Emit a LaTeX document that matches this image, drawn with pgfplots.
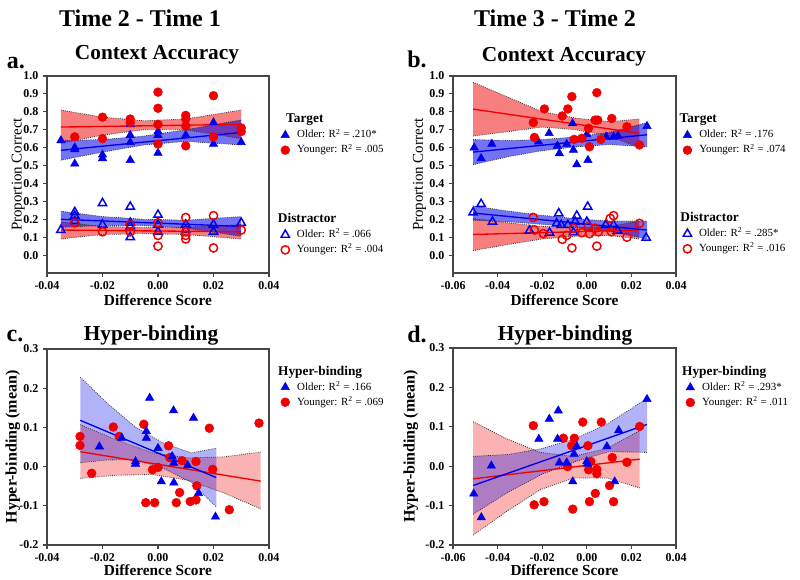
\documentclass[border=0pt]{standalone}
\usepackage{pgfplots}
\pgfplotsset{compat=1.18}
\usepackage{fontspec}
\setmainfont{Liberation Serif}
\definecolor{myblue}{RGB}{0,0,235}
\definecolor{myred}{RGB}{240,0,0}
\definecolor{axgray}{RGB}{70,70,70}
\pgfplotsset{
  legstyle/.style={legend style={draw=none, fill=none, anchor=north west,
      font=\fontsize{8.2}{9}\selectfont, row sep=1.85pt, inner sep=0pt,
      nodes={inner sep=0.6pt, text height=6.2pt, text depth=2pt},
      /tikz/every odd column/.append style={column sep=5pt},
      cells={anchor=west}}},
  panel/.style={
    scale only axis, legstyle, scaled ticks=false,
    axis line style={axgray, line width=0.8pt},
    every tick/.style={axgray, line width=0.8pt},
    tick align=outside,
    xtick pos=left, ytick pos=left,
    major tick length=3pt,
    tick label style={font=\bfseries\fontsize{9}{10}\selectfont},
    /pgf/number format/assume math mode=true,
    xticklabel style={/pgf/number format/fixed, /pgf/number format/fixed zerofill, /pgf/number format/precision=2},
    yticklabel style={/pgf/number format/fixed, /pgf/number format/fixed zerofill, /pgf/number format/precision=1},
    xlabel style={font=\bfseries\fontsize{11.5}{13}\selectfont},
    xlabel shift=-3pt,
  },
  hidden/.style={scale only axis, hide axis, legstyle},
  olderT/.style={only marks, mark=triangle*, mark size=3.6pt, mark options={draw=myblue, fill=myblue}},
  youngerT/.style={only marks, mark=*, mark size=3.3pt, mark options={draw=myred, fill=myred}},
  olderD/.style={only marks, mark=triangle, mark size=3.6pt, mark options={draw=myblue, line width=1.1pt, fill=none}},
  youngerD/.style={only marks, mark=o, mark size=3.1pt, mark options={draw=myred, line width=1.1pt}},
  cib/.style={densely dotted, black!80, line width=0.6pt, forget plot},
  regr/.style={#1, line width=1pt, forget plot},
}
\newcommand{\hdr}[2]{\hspace{#1}\fontsize{10}{11}\bfseries #2}
\begin{document}
\begin{tikzpicture}
\useasboundingbox (0,0) rectangle (600pt,-434.25pt);
\node[font=\bfseries\fontsize{18}{20}\selectfont] at (105pt,-13.5pt) {Time 2 - Time 1};
\node[font=\bfseries\fontsize{18}{20}\selectfont] at (416.25pt,-13.5pt) {Time 3 - Time 2};
\node[font=\bfseries\fontsize{18}{20}\selectfont] at (12pt,-47.5pt) {a.};
\node[font=\bfseries\fontsize{18}{20}\selectfont] at (312.75pt,-44.5pt) {b.};
\node[font=\bfseries\fontsize{18}{20}\selectfont] at (11.25pt,-252pt) {c.};
\node[font=\bfseries\fontsize{18}{20}\selectfont] at (312.75pt,-250.5pt) {d.};
\node[font=\bfseries\fontsize{16}{18}\selectfont] at (117.75pt,-41.25pt) {Context Accuracy};
\node[font=\bfseries\fontsize{16}{18}\selectfont] at (423pt,-42.75pt) {Context Accuracy};
\node[font=\bfseries\fontsize{16}{18}\selectfont] at (113.25pt,-251.25pt) {Hyper-binding};
\node[font=\bfseries\fontsize{16}{18}\selectfont] at (423.75pt,-251.25pt) {Hyper-binding};

%================ Panel a: target
\begin{axis}[panel, at={(35.25pt,-204.75pt)}, anchor=south west,
  width=166.5pt, height=147.75pt,
  xmin=-0.04, xmax=0.04, ymin=-0.1, ymax=1.0,
  xtick={-0.04,-0.02,0,0.02,0.04},
  ytick={0,0.1,0.2,0.3,0.4,0.5,0.6,0.7,0.8,0.9,1.0},
  xlabel={Difference Score}, ylabel={Proportion Correct},
  ylabel style={font=\fontsize{11.25}{13}\selectfont}, ylabel shift=-8pt,
  legend style={at={(1.021,0.809)}}]
\addplot[fill=myred, fill opacity=0.5, draw=none, forget plot] coordinates
 {(-0.035,0.81) (-0.02,0.77) (-0.005,0.75) (0.01,0.76) (0.03,0.81)
  (0.03,0.65) (0.01,0.70) (-0.005,0.70) (-0.02,0.67) (-0.035,0.625)} -- cycle;
\addplot[fill=myblue, fill opacity=0.55, draw=none, forget plot] coordinates
 {(-0.035,0.64) (-0.02,0.645) (-0.005,0.665) (0.01,0.70) (0.03,0.755)
  (0.03,0.615) (0.01,0.635) (-0.005,0.615) (-0.02,0.575) (-0.035,0.53)} -- cycle;
\addplot[cib] coordinates {(-0.035,0.81) (-0.02,0.77) (-0.005,0.75) (0.01,0.76) (0.03,0.81)};
\addplot[cib] coordinates {(-0.035,0.625) (-0.02,0.67) (-0.005,0.70) (0.01,0.70) (0.03,0.65)};
\addplot[cib] coordinates {(-0.035,0.64) (-0.02,0.645) (-0.005,0.665) (0.01,0.70) (0.03,0.755)};
\addplot[cib] coordinates {(-0.035,0.53) (-0.02,0.575) (-0.005,0.615) (0.01,0.635) (0.03,0.615)};
\addplot[regr=myred] coordinates {(-0.035,0.715) (0.03,0.73)};
\addplot[regr=myblue] coordinates {(-0.035,0.585) (0.03,0.685)};
\addplot[olderT, forget plot] coordinates {(-0.035,0.64) (-0.03,0.60) (-0.03,0.59) (-0.03,0.51) (-0.02,0.56) (-0.02,0.54) (-0.01,0.73) (-0.01,0.67) (-0.01,0.63) (-0.01,0.53) (0,0.69) (0,0.67) (0,0.57) (0.01,0.67) (0.02,0.74) (0.02,0.62) (0.03,0.63)};
\addplot[youngerT, forget plot] coordinates {(-0.03,0.66) (-0.02,0.77) (-0.02,0.65) (-0.01,0.76) (-0.01,0.74) (0,0.91) (0,0.82) (0,0.73) (0,0.62) (0.01,0.78) (0.01,0.76) (0.01,0.72) (0.01,0.61) (0.02,0.89) (0.02,0.66) (0.03,0.71) (0.03,0.69)};
\addlegendimage{empty legend}\addlegendentry{\hdr{-8.25pt}{Target}}
\addlegendimage{olderT}\addlegendentry{Older: R\textsuperscript{2} = .210*}
\addlegendimage{youngerT}\addlegendentry{Younger: R\textsuperscript{2} = .005}
\end{axis}
%================ Panel a: distractor
\begin{axis}[hidden, at={(35.25pt,-204.75pt)}, anchor=south west,
  width=166.5pt, height=147.75pt,
  xmin=-0.04, xmax=0.04, ymin=-0.1, ymax=1.0,
  legend style={at={(1.021,0.303)}}]
\addplot[fill=myred, fill opacity=0.5, draw=none, forget plot] coordinates
 {(-0.035,0.185) (-0.02,0.16) (-0.005,0.155) (0.01,0.155) (0.03,0.17)
  (0.03,0.09) (0.01,0.115) (-0.005,0.12) (-0.02,0.115) (-0.035,0.09)} -- cycle;
\addplot[fill=myblue, fill opacity=0.55, draw=none, forget plot] coordinates
 {(-0.035,0.245) (-0.02,0.215) (-0.005,0.20) (0.01,0.195) (0.03,0.215)
  (0.03,0.105) (0.01,0.15) (-0.005,0.165) (-0.02,0.165) (-0.035,0.155)} -- cycle;
\addplot[cib] coordinates {(-0.035,0.185) (-0.02,0.16) (-0.005,0.155) (0.01,0.155) (0.03,0.17)};
\addplot[cib] coordinates {(-0.035,0.09) (-0.02,0.115) (-0.005,0.12) (0.01,0.115) (0.03,0.09)};
\addplot[cib] coordinates {(-0.035,0.245) (-0.02,0.215) (-0.005,0.20) (0.01,0.195) (0.03,0.215)};
\addplot[cib] coordinates {(-0.035,0.155) (-0.02,0.165) (-0.005,0.165) (0.01,0.15) (0.03,0.105)};
\addplot[regr=myred] coordinates {(-0.035,0.14) (0.03,0.13)};
\addplot[regr=myblue] coordinates {(-0.035,0.20) (0.03,0.16)};
\addplot[olderD, forget plot] coordinates {(-0.035,0.14) (-0.03,0.24) (-0.03,0.22) (-0.03,0.19) (-0.02,0.29) (-0.02,0.17) (-0.01,0.27) (-0.01,0.18) (-0.01,0.16) (-0.01,0.10) (0,0.225) (0,0.17) (0,0.13) (0.01,0.17) (0.01,0.14) (0.02,0.17) (0.02,0.13) (0.03,0.18)};
\addplot[youngerD, forget plot] coordinates {(-0.03,0.18) (-0.02,0.13) (-0.01,0.13) (-0.01,0.17) (0,0.18) (0,0.11) (0,0.05) (0.01,0.21) (0.01,0.13) (0.01,0.11) (0.01,0.09) (0.02,0.22) (0.02,0.04) (0.03,0.14)};
\addlegendimage{empty legend}\addlegendentry{\hdr{-14.25pt}{Distractor}}
\addlegendimage{olderD}\addlegendentry{Older: R\textsuperscript{2} = .066}
\addlegendimage{youngerD}\addlegendentry{Younger: R\textsuperscript{2} = .004}
\end{axis}

%================ Panel b: target
\begin{axis}[panel, at={(339.75pt,-204.75pt)}, anchor=south west,
  width=167.25pt, height=147.75pt,
  xmin=-0.06, xmax=0.04, ymin=-0.1, ymax=1.0,
  xtick={-0.06,-0.04,-0.02,0,0.02,0.04},
  ytick={0,0.1,0.2,0.3,0.4,0.5,0.6,0.7,0.8,0.9,1.0},
  xlabel={Difference Score}, ylabel={Proportion Correct},
  ylabel style={font=\fontsize{11.25}{13}\selectfont}, ylabel shift=-4.5pt,
  legend style={at={(0.999,0.809)}}]
\addplot[fill=myred, fill opacity=0.5, draw=none, forget plot] coordinates
 {(-0.051,0.965) (-0.035,0.88) (-0.02,0.80) (-0.005,0.765) (0.01,0.745) (0.0236,0.76)
  (0.0236,0.60) (0.01,0.665) (-0.005,0.70) (-0.02,0.715) (-0.035,0.69) (-0.051,0.665)} -- cycle;
\addplot[fill=myblue, fill opacity=0.55, draw=none, forget plot] coordinates
 {(-0.051,0.645) (-0.035,0.64) (-0.02,0.645) (-0.005,0.66) (0.01,0.685) (0.027,0.74)
  (0.027,0.605) (0.01,0.617) (-0.005,0.604) (-0.02,0.583) (-0.035,0.55) (-0.051,0.505)} -- cycle;
\addplot[cib] coordinates {(-0.051,0.965) (-0.035,0.88) (-0.02,0.80) (-0.005,0.765) (0.01,0.745) (0.0236,0.76)};
\addplot[cib] coordinates {(-0.051,0.665) (-0.035,0.69) (-0.02,0.715) (-0.005,0.70) (0.01,0.665) (0.0236,0.60)};
\addplot[cib] coordinates {(-0.051,0.645) (-0.035,0.64) (-0.02,0.645) (-0.005,0.66) (0.01,0.685) (0.027,0.74)};
\addplot[cib] coordinates {(-0.051,0.505) (-0.035,0.55) (-0.02,0.583) (-0.005,0.604) (0.01,0.617) (0.027,0.605)};
\addplot[regr=myred] coordinates {(-0.051,0.815) (0.0236,0.68)};
\addplot[regr=myblue] coordinates {(-0.051,0.575) (0.027,0.672)};
\addplot[olderT, forget plot] coordinates {(-0.0505,0.60) (-0.0474,0.54) (-0.0426,0.62) (-0.0217,0.633) (-0.0169,0.68) (-0.0132,0.61) (-0.0123,0.568) (-0.009,0.62) (-0.0064,0.735) (-0.006,0.587) (-0.0045,0.506) (0,0.674) (0.0005,0.53) (0.0087,0.66) (0.012,0.66) (0.014,0.665) (0.027,0.72)};
\addplot[youngerT, forget plot] coordinates {(-0.024,0.74) (-0.0235,0.657) (-0.019,0.816) (-0.011,0.777) (-0.0085,0.816) (-0.0067,0.885) (-0.0057,0.646) (-0.0022,0.652) (0.00075,0.708) (0.0012,0.605) (0.0037,0.754) (0.0049,0.754) (0.0045,0.907) (0.0063,0.646) (0.0112,0.763) (0.018,0.717) (0.0236,0.615)};
\addlegendimage{empty legend}\addlegendentry{\hdr{-14.75pt}{Target}}
\addlegendimage{olderT}\addlegendentry{Older: R\textsuperscript{2} = .176}
\addlegendimage{youngerT}\addlegendentry{Younger: R\textsuperscript{2} = .074}
\end{axis}
%================ Panel b: distractor
\begin{axis}[hidden, at={(339.75pt,-204.75pt)}, anchor=south west,
  width=167.25pt, height=147.75pt,
  xmin=-0.06, xmax=0.04, ymin=-0.1, ymax=1.0,
  legend style={at={(0.999,0.308)}}]
\addplot[fill=myred, fill opacity=0.5, draw=none, forget plot] coordinates
 {(-0.051,0.205) (-0.035,0.18) (-0.02,0.16) (-0.005,0.155) (0.01,0.16) (0.0236,0.19)
  (0.0236,0.09) (0.01,0.11) (-0.005,0.105) (-0.02,0.09) (-0.035,0.06) (-0.051,0.025)} -- cycle;
\addplot[fill=myblue, fill opacity=0.55, draw=none, forget plot] coordinates
 {(-0.051,0.275) (-0.035,0.245) (-0.02,0.222) (-0.005,0.203) (0.01,0.19) (0.027,0.19)
  (0.027,0.09) (0.01,0.132) (-0.005,0.155) (-0.02,0.172) (-0.035,0.185) (-0.051,0.195)} -- cycle;
\addplot[cib] coordinates {(-0.051,0.205) (-0.035,0.18) (-0.02,0.16) (-0.005,0.155) (0.01,0.16) (0.0236,0.19)};
\addplot[cib] coordinates {(-0.051,0.025) (-0.035,0.06) (-0.02,0.09) (-0.005,0.105) (0.01,0.11) (0.0236,0.09)};
\addplot[cib] coordinates {(-0.051,0.275) (-0.035,0.245) (-0.02,0.222) (-0.005,0.203) (0.01,0.19) (0.027,0.19)};
\addplot[cib] coordinates {(-0.051,0.195) (-0.035,0.185) (-0.02,0.172) (-0.005,0.155) (0.01,0.132) (0.027,0.09)};
\addplot[regr=myred] coordinates {(-0.051,0.115) (0.0236,0.14)};
\addplot[regr=myblue] coordinates {(-0.051,0.235) (0.027,0.14)};
\addplot[olderD, forget plot] coordinates {(-0.051,0.238) (-0.0474,0.285) (-0.0423,0.186) (-0.0257,0.136) (-0.0167,0.125) (-0.0126,0.233) (-0.0135,0.177) (-0.0115,0.168) (-0.0085,0.168) (-0.006,0.127) (-0.0052,0.186) (-0.0045,0.22) (0,0.186) (0.0004,0.27) (0.0085,0.168) (0.012,0.168) (0.0138,0.136) (0.0266,0.097)};
\addplot[youngerD, forget plot] coordinates {(-0.024,0.21) (-0.0235,0.14) (-0.0195,0.12) (-0.011,0.088) (-0.009,0.11) (-0.0067,0.04) (-0.006,0.15) (-0.0022,0.125) (0.00075,0.158) (0.0012,0.12) (0.0037,0.15) (0.0045,0.05) (0.0052,0.13) (0.0105,0.205) (0.012,0.22) (0.011,0.13) (0.018,0.10) (0.0236,0.177)};
\addlegendimage{empty legend}\addlegendentry{\hdr{-14pt}{Distractor}}
\addlegendimage{olderD}\addlegendentry{Older: R\textsuperscript{2} = .285*}
\addlegendimage{youngerD}\addlegendentry{Younger: R\textsuperscript{2} = .016}
\end{axis}

%================ Panel c
\begin{axis}[panel, at={(35.25pt,-408.75pt)}, anchor=south west,
  width=166.5pt, height=147pt,
  xmin=-0.04, xmax=0.04, ymin=-0.2, ymax=0.3,
  xtick={-0.04,-0.02,0,0.02,0.04},
  ytick={-0.2,-0.1,0,0.1,0.2,0.3},
  xlabel={Difference Score}, ylabel={Hyper-binding (mean)}, xlabel shift=-4.5pt,
  ylabel style={font=\bfseries\fontsize{12}{14}\selectfont}, ylabel shift=-7.5pt,
  legend style={at={(1.021,0.915)}}]
\addplot[fill=myred, fill opacity=0.3, draw=none, forget plot] coordinates
 {(-0.028,0.107) (-0.015,0.068) (-0.002,0.035) (0.011,0.022) (0.024,0.025) (0.037,0.037)
  (0.037,-0.108) (0.024,-0.068) (0.011,-0.035) (-0.002,-0.02) (-0.015,-0.022) (-0.028,-0.03)} -- cycle;
\addplot[fill=myblue, fill opacity=0.3, draw=none, forget plot] coordinates
 {(-0.028,0.228) (-0.018,0.16) (-0.008,0.10) (0.002,0.06) (0.012,0.035) (0.021,0.047)
  (0.021,-0.103) (0.012,-0.04) (0.002,-0.005) (-0.008,0.018) (-0.018,0.017) (-0.028,0.01)} -- cycle;
\addplot[cib] coordinates {(-0.028,0.107) (-0.015,0.068) (-0.002,0.035) (0.011,0.022) (0.024,0.025) (0.037,0.037)};
\addplot[cib] coordinates {(-0.028,-0.03) (-0.015,-0.022) (-0.002,-0.02) (0.011,-0.035) (0.024,-0.068) (0.037,-0.108)};
\addplot[cib] coordinates {(-0.028,0.228) (-0.018,0.16) (-0.008,0.10) (0.002,0.06) (0.012,0.035) (0.021,0.047)};
\addplot[cib] coordinates {(-0.028,0.01) (-0.018,0.017) (-0.008,0.018) (0.002,-0.005) (0.012,-0.04) (0.021,-0.103)};
\addplot[regr=myred] coordinates {(-0.028,0.038) (0.037,-0.037)};
\addplot[regr=myblue] coordinates {(-0.028,0.118) (0.021,-0.028)};
\addplot[youngerT, forget plot] coordinates {(-0.0281,0.077) (-0.0281,0.054) (-0.0239,-0.017) (-0.0161,0.101) (-0.014,0.077) (-0.0051,0.108) (-0.0044,-0.092) (-0.002,-0.008) (0,-0.002) (-0.0012,-0.092) (0.0038,0.053) (0.0042,0.023) (0.0066,-0.092) (0.0078,-0.066) (0.0087,0.015) (0.0116,-0.089) (0.0137,0.013) (0.0137,-0.085) (0.014,-0.049) (0.0185,0.098) (0.0197,-0.007) (0.0257,-0.11) (0.0364,0.111)};
\addplot[olderT, forget plot] coordinates {(-0.0211,0.051) (-0.0131,0.073) (-0.0081,0.013) (-0.0081,0.007) (-0.0042,0.090) (-0.0042,0.073) (-0.003,0.175) (0,0.047) (0.0012,-0.038) (0.0051,0.026) (0.0056,0.143) (0.0057,0.009) (0.0057,-0.041) (0.0107,0.003) (0.0128,0.124) (0.0146,-0.068) (0.0207,-0.128)};
\addlegendimage{empty legend}\addlegendentry{\hdr{-14.25pt}{Hyper-binding}}
\addlegendimage{olderT}\addlegendentry{Older: R\textsuperscript{2} = .166}
\addlegendimage{youngerT}\addlegendentry{Younger: R\textsuperscript{2} = .069}
\end{axis}

%================ Panel d
\begin{axis}[panel, at={(339.75pt,-408.75pt)}, anchor=south west,
  width=167.25pt, height=147.75pt,
  xmin=-0.06, xmax=0.04, ymin=-0.2, ymax=0.3,
  xtick={-0.06,-0.04,-0.02,0,0.02,0.04},
  ytick={-0.2,-0.1,0,0.1,0.2,0.3},
  xlabel={Difference Score}, ylabel={Hyper-binding (mean)}, xlabel shift=-4.5pt,
  ylabel style={font=\bfseries\fontsize{12}{14}\selectfont}, ylabel shift=-1.5pt,
  legend style={at={(1.012,0.909)}}]
\addplot[fill=myred, fill opacity=0.3, draw=none, forget plot] coordinates
 {(-0.051,0.113) (-0.036,0.07) (-0.021,0.035) (-0.006,0.025) (0.009,0.045) (0.0237,0.09)
  (0.0237,-0.055) (0.009,-0.03) (-0.006,-0.03) (-0.021,-0.06) (-0.036,-0.115) (-0.051,-0.175)} -- cycle;
\addplot[fill=myblue, fill opacity=0.3, draw=none, forget plot] coordinates
 {(-0.051,0.025) (-0.035,0.03) (-0.02,0.045) (-0.005,0.07) (0.01,0.11) (0.027,0.172)
  (0.027,0.035) (0.01,0.037) (-0.005,0.012) (-0.02,-0.02) (-0.035,-0.065) (-0.051,-0.122)} -- cycle;
\addplot[cib] coordinates {(-0.051,0.113) (-0.036,0.07) (-0.021,0.035) (-0.006,0.025) (0.009,0.045) (0.0237,0.09)};
\addplot[cib] coordinates {(-0.051,-0.175) (-0.036,-0.115) (-0.021,-0.06) (-0.006,-0.03) (0.009,-0.03) (0.0237,-0.055)};
\addplot[cib] coordinates {(-0.051,0.025) (-0.035,0.03) (-0.02,0.045) (-0.005,0.07) (0.01,0.11) (0.027,0.172)};
\addplot[cib] coordinates {(-0.051,-0.122) (-0.035,-0.065) (-0.02,-0.02) (-0.005,0.012) (0.01,0.037) (0.027,0.035)};
\addplot[regr=myred] coordinates {(-0.051,-0.032) (0.0237,0.018)};
\addplot[regr=myblue] coordinates {(-0.051,-0.049) (0.027,0.106)};
\addplot[youngerT, forget plot] coordinates {(-0.024,0.103) (-0.0236,-0.098) (-0.0192,-0.090) (-0.0105,0.071) (-0.0086,-0.001) (-0.0068,0.052) (-0.0063,-0.109) (-0.0056,0.071) (-0.0018,0.112) (0.0005,0.052) (0.0008,-0.009) (0.0012,-0.090) (0.0018,0.012) (0.0038,-0.069) (0.0045,-0.008) (0.0045,-0.019) (0.0065,0.112) (0.0102,-0.049) (0.0114,0.022) (0.012,-0.090) (0.018,0.010) (0.0237,0.101)};
\addplot[olderT, forget plot] coordinates {(-0.0507,-0.070) (-0.0473,-0.130) (-0.0428,0.001) (-0.0215,0.069) (-0.0168,0.120) (-0.0128,0.141) (-0.0131,0.069) (-0.0123,0.009) (-0.009,0.009) (-0.0063,-0.039) (-0.0057,0.031) (-0.0045,0.05) (0,0.012) (0.0003,0.006) (0.009,0.05) (0.0125,-0.039) (0.0143,0.091) (0.027,0.170)};
\addlegendimage{empty legend}\addlegendentry{\hdr{-15pt}{Hyper-binding}}
\addlegendimage{olderT}\addlegendentry{Older: R\textsuperscript{2} = .293*}
\addlegendimage{youngerT}\addlegendentry{Younger: R\textsuperscript{2} = .011}
\end{axis}
\end{tikzpicture}
\end{document}
